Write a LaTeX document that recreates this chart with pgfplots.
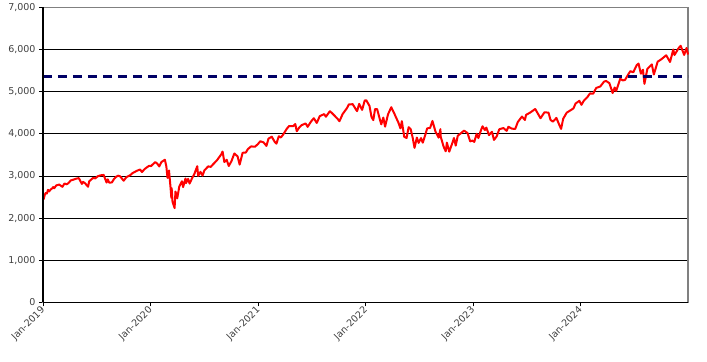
\documentclass[border=0pt]{standalone}
\usepackage{fontspec}
\setmainfont{DejaVu Sans}
\usepackage{pgfplots}
\pgfplotsset{compat=1.18}
\usepgfplotslibrary{dateplot}
\definecolor{navyd}{HTML}{000066}
\definecolor{labgray}{HTML}{404040}
\definecolor{bordergray}{HTML}{808080}
\begin{document}
\begin{tikzpicture}
\begin{axis}[
  scale only axis,
  width=645pt, height=295pt,
  date coordinates in=x,
  xmin=2019-01-01, xmax=2024-12-31,
  ymin=0, ymax=7000,
  ytick={0,1000,2000,3000,4000,5000,6000,7000},
  xtick={2019-01-01,2020-01-01,2021-01-01,2022-01-01,2023-01-01,2024-01-01},
  xticklabels={Jan-2019,Jan-2020,Jan-2021,Jan-2022,Jan-2023,Jan-2024},
  x tick label style={rotate=45, anchor=east, xshift=2pt, yshift=-2pt, font=\fontsize{9.5}{11}\selectfont, text=labgray},
  y tick label style={font=\fontsize{9.5}{11}\selectfont, text=labgray},
  /pgf/number format/.cd, 1000 sep={,}, assume math mode=true, /pgfplots/.cd,
  ymajorgrids,
  grid style={black, line width=0.8pt},
  tick pos=left,
  tick align=outside,
  major tick length=4pt,
  tick style={black, line width=0.8pt},
  axis line style={bordergray, line width=1.6pt},
  clip=false,
]
\addplot[red, line width=2pt, line join=round] table[x=date, y=v] {
date v
2019-01-02 2510
2019-01-03 2448
2019-01-07 2550
2019-01-10 2596
2019-01-14 2582
2019-01-18 2671
2019-01-22 2633
2019-01-25 2665
2019-02-01 2707
2019-02-05 2737
2019-02-08 2708
2019-02-15 2776
2019-02-25 2796
2019-03-08 2743
2019-03-15 2822
2019-03-22 2801
2019-03-29 2834
2019-04-05 2893
2019-04-12 2907
2019-04-23 2934
2019-04-30 2946
2019-05-03 2946
2019-05-13 2812
2019-05-17 2860
2019-05-24 2826
2019-06-03 2744
2019-06-07 2873
2019-06-20 2954
2019-06-28 2942
2019-07-05 2990
2019-07-15 3014
2019-07-26 3026
2019-08-05 2844
2019-08-09 2919
2019-08-14 2840
2019-08-23 2847
2019-08-30 2926
2019-09-06 2979
2019-09-13 3007
2019-09-20 2992
2019-10-02 2887
2019-10-11 2970
2019-10-25 3023
2019-11-01 3067
2019-11-15 3120
2019-11-27 3154
2019-12-03 3093
2019-12-13 3169
2019-12-27 3240
2020-01-03 3235
2020-01-17 3330
2020-01-24 3295
2020-01-31 3226
2020-02-07 3328
2020-02-19 3386
2020-02-24 3226
2020-02-28 2954
2020-03-04 3130
2020-03-09 2747
2020-03-12 2481
2020-03-13 2711
2020-03-16 2386
2020-03-20 2305
2020-03-23 2237
2020-03-26 2630
2020-04-01 2470
2020-04-08 2750
2020-04-17 2875
2020-04-21 2737
2020-04-29 2940
2020-05-01 2831
2020-05-08 2930
2020-05-13 2820
2020-05-22 2955
2020-05-29 3044
2020-06-08 3232
2020-06-11 3002
2020-06-19 3098
2020-06-26 3009
2020-07-02 3130
2020-07-15 3227
2020-07-24 3216
2020-07-31 3271
2020-08-14 3373
2020-08-28 3508
2020-09-02 3580
2020-09-08 3332
2020-09-16 3385
2020-09-23 3237
2020-10-02 3348
2020-10-12 3534
2020-10-23 3465
2020-10-30 3270
2020-11-09 3550
2020-11-20 3557
2020-11-27 3638
2020-12-08 3702
2020-12-21 3694
2020-12-31 3756
2021-01-08 3824
2021-01-19 3798
2021-01-29 3714
2021-02-05 3886
2021-02-16 3932
2021-02-26 3811
2021-03-04 3768
2021-03-12 3943
2021-03-19 3913
2021-03-26 3975
2021-04-09 4129
2021-04-16 4185
2021-04-30 4181
2021-05-07 4233
2021-05-12 4063
2021-05-21 4156
2021-05-28 4204
2021-06-11 4247
2021-06-18 4166
2021-06-30 4298
2021-07-09 4370
2021-07-19 4258
2021-07-29 4419
2021-08-13 4468
2021-08-19 4406
2021-08-31 4523
2021-09-02 4537
2021-09-17 4433
2021-09-28 4353
2021-10-04 4300
2021-10-15 4471
2021-10-29 4605
2021-11-05 4697
2021-11-18 4704
2021-11-30 4567
2021-12-03 4538
2021-12-10 4712
2021-12-20 4568
2021-12-29 4793
2022-01-03 4797
2022-01-14 4663
2022-01-21 4398
2022-01-27 4326
2022-02-02 4589
2022-02-09 4587
2022-02-18 4349
2022-02-23 4225
2022-03-02 4387
2022-03-08 4170
2022-03-18 4463
2022-03-29 4631
2022-04-08 4488
2022-04-14 4392
2022-04-22 4272
2022-04-29 4132
2022-05-04 4300
2022-05-12 3930
2022-05-20 3901
2022-05-27 4158
2022-06-03 4109
2022-06-10 3901
2022-06-16 3667
2022-06-24 3912
2022-06-30 3785
2022-07-08 3899
2022-07-14 3790
2022-07-22 3962
2022-07-29 4130
2022-08-08 4140
2022-08-16 4305
2022-08-26 4058
2022-09-06 3909
2022-09-12 4110
2022-09-13 3932
2022-09-23 3693
2022-09-30 3586
2022-10-04 3791
2022-10-12 3577
2022-10-21 3753
2022-10-28 3901
2022-11-03 3720
2022-11-10 3956
2022-11-23 4027
2022-12-01 4077
2022-12-13 4020
2022-12-22 3822
2022-12-30 3840
2023-01-05 3808
2023-01-13 3999
2023-01-19 3899
2023-01-27 4071
2023-02-02 4180
2023-02-10 4090
2023-02-15 4148
2023-02-24 3970
2023-03-06 4048
2023-03-13 3856
2023-03-22 3937
2023-03-31 4109
2023-04-14 4137
2023-04-25 4071
2023-05-01 4168
2023-05-12 4124
2023-05-24 4115
2023-06-02 4282
2023-06-16 4410
2023-06-26 4328
2023-06-30 4450
2023-07-14 4505
2023-07-31 4589
2023-08-10 4468
2023-08-18 4370
2023-08-31 4508
2023-09-14 4505
2023-09-21 4330
2023-09-29 4288
2023-10-11 4377
2023-10-20 4224
2023-10-27 4117
2023-11-03 4358
2023-11-15 4502
2023-11-30 4568
2023-12-08 4604
2023-12-15 4719
2023-12-28 4783
2024-01-04 4688
2024-01-12 4784
2024-01-24 4869
2024-02-02 4959
2024-02-13 4953
2024-02-23 5088
2024-03-08 5124
2024-03-21 5241
2024-03-28 5254
2024-04-08 5202
2024-04-19 4967
2024-04-26 5100
2024-05-01 5018
2024-05-15 5308
2024-05-23 5268
2024-05-31 5278
2024-06-12 5421
2024-06-18 5487
2024-06-28 5460
2024-07-10 5633
2024-07-16 5667
2024-07-24 5427
2024-07-31 5522
2024-08-05 5186
2024-08-15 5543
2024-08-30 5648
2024-09-06 5408
2024-09-19 5713
2024-09-30 5762
2024-10-18 5864
2024-10-31 5705
2024-11-11 6001
2024-11-15 5870
2024-11-29 6032
2024-12-06 6090
2024-12-18 5872
2024-12-26 6037
2024-12-31 5882
};
\addplot[navyd, line width=2.2pt, dash pattern=on 9pt off 6pt] coordinates {(2019-01-01,5360) (2024-12-31,5360)};
\draw[black, line width=1.2pt] (rel axis cs:0,0) -- (rel axis cs:0,1);
\draw[black, line width=1.2pt] (rel axis cs:0,0) -- (rel axis cs:1,0);
\end{axis}
\path ([shift={(-43pt,-59pt)}]current axis.south west) rectangle ([shift={(19pt,7pt)}]current axis.north east);
\end{tikzpicture}
\end{document}
